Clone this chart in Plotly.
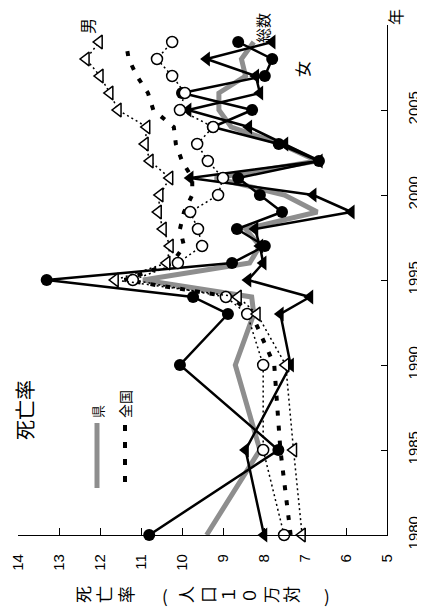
import plotly.graph_objects as go

# ---------------- data ----------------
years = [1980, 1985, 1990, 1993, 1994, 1995, 1996, 1997, 1998, 1999,
         2000, 2001, 2002, 2003, 2004, 2005, 2006, 2007, 2008, 2009]

pref_total = [9.4, 8.1, 8.7, 8.25, 8.3, 10.95, 8.35, 8.1, 8.45, 6.7,
              7.5, 9.2, 6.7, 7.6, 8.8, 9.1, 9.1, 8.45, 8.55, 8.25]
pref_female = [10.8, 7.65, 10.05, 8.88, 9.73, 13.3, 8.78, 7.98, 8.66, 7.56,
               8.1, 8.63, 6.66, 7.64, 9.25, 8.29, 10.0, 7.98, 7.8, 8.63]
pref_male = [8.0, 8.45, 7.35, 7.6, 6.88, 8.39, 8.02, 8.1, 8.22, 5.87,
             6.8, 9.8, 6.65, 7.49, 8.37, 9.85, 8.1, 8.2, 9.4, 7.8]
nat_total = [7.35, 7.6, 7.75, 8.3, 8.8, 11.4, 10.24, 9.95, 10.05, 9.95,
             9.75, 9.75, 10.0, 10.15, 10.2, 10.7, 10.83, 11.1, 11.3, 11.37]
nat_female = [7.51, 8.02, 8.02, 8.41, 8.93, 11.2, 10.1, 9.51, 9.61, 9.8,
              9.12, 9.0, 9.37, 9.63, 9.24, 10.05, 9.93, 10.24, 10.61, 10.24]
nat_male = [7.07, 7.28, 7.47, 8.17, 8.63, 11.63, 10.37, 10.29, 10.46, 10.58,
            10.54, 10.3, 10.78, 10.9, 10.86, 11.56, 11.76, 12.0, 12.34, 12.02]

value_ticks = [14, 13, 12, 11, 10, 9, 8, 7, 6, 5]
year_ticks = [1980, 1985, 1990, 1995, 2000, 2005, 2010]
axis_title_chars = list("死亡率（人口１０万対）")

# ---------------- layout helpers ----------------
OFF = 8  # default page body margin
W, H = 425 - OFF, 613 - OFF
L, R, T, B = 18 - OFF, 38, 25 - OFF, 78
PW, PH = W - L - R, H - T - B


def px(x):
    # x in window pixels -> paper fraction
    return (x - OFF - L) / PW


def py(y):
    return (H - B - (y - OFF)) / PH


GRAY = "#8e8e8e"
JP = "Noto Sans CJK JP"
NUM = "Liberation Sans, Arial, sans-serif"

fig = go.Figure()

fig.add_trace(go.Scatter(x=pref_total, y=years, mode="lines", name="県",
                         line=dict(color=GRAY, width=5), cliponaxis=False))
fig.add_trace(go.Scatter(x=pref_female, y=years, mode="lines+markers", name="県女",
                         line=dict(color="black", width=2.5),
                         marker=dict(symbol="circle", size=12, color="black"),
                         cliponaxis=False))
fig.add_trace(go.Scatter(x=pref_male, y=years, mode="lines+markers", name="県男",
                         line=dict(color="black", width=2.5),
                         marker=dict(symbol="triangle-left", size=13, color="black"),
                         cliponaxis=False))
fig.add_trace(go.Scatter(x=nat_total, y=years, mode="lines", name="全国",
                         line=dict(color="black", width=4, dash="5px,10px"),
                         cliponaxis=False))
fig.add_trace(go.Scatter(x=nat_female, y=years, mode="lines+markers", name="全国女",
                         line=dict(color="black", width=1.5, dash="2px,3px"),
                         marker=dict(symbol="circle", size=11, color="white",
                                     line=dict(color="black", width=1.5)),
                         cliponaxis=False))
fig.add_trace(go.Scatter(x=nat_male, y=years, mode="lines+markers", name="全国男",
                         line=dict(color="black", width=1.5, dash="2px,3px"),
                         marker=dict(symbol="triangle-left", size=12, color="white",
                                     line=dict(color="black", width=1.5)),
                         cliponaxis=False))

annotations = []


def ann(text, x, y, size, angle=-90, family=JP):
    annotations.append(dict(text=text, x=px(x), y=py(y), xref="paper", yref="paper",
                            showarrow=False, textangle=angle,
                            font=dict(family=family, size=size, color="black"),
                            xanchor="center", yanchor="middle"))


ann("死亡率", 24, 410, 20)
ann("県", 97, 412, 13)
ann("全国", 125, 404, 14)
ann("男", 87, 26, 16)
ann("女", 302, 69, 16)
ann("総数", 263, 28, 15)
ann("年", 395, 17, 16)

title_x = [82, 103, 125, 165, 185, 207, 227, 248, 270, 290, 327]
for ch, xx in zip(axis_title_chars, title_x):
    ang = 0 if ch in "（）" else -90
    t = {"（": "(", "）": ")"}.get(ch, ch)
    ann(t, xx, 595, 17, angle=ang)

shapes = [
    dict(type="line", xref="paper", yref="paper", x0=px(97), x1=px(97),
         y0=py(423), y1=py(488), line=dict(color=GRAY, width=5)),
    dict(type="line", xref="paper", yref="paper", x0=px(125), x1=px(125),
         y0=py(425), y1=py(488), line=dict(color="black", width=4, dash="6px,11px")),
]

fig.update_layout(
    width=W, height=H, autosize=False,
    margin=dict(l=L, r=R, t=T, b=B, pad=0, autoexpand=False),
    paper_bgcolor="white", plot_bgcolor="white",
    showlegend=False,
    annotations=annotations,
    shapes=shapes,
    xaxis=dict(range=[14, 5], tickvals=value_ticks,
               ticktext=[str(v) for v in value_ticks], automargin=False,
               tickangle=-90, ticks="inside", ticklen=7, tickwidth=1.3,
               tickcolor="black", showline=True, linecolor="black", linewidth=1.3,
               showgrid=False, zeroline=False,
               tickfont=dict(family=NUM, size=15, color="black"),
               ticklabelstandoff=12),
    yaxis=dict(range=[1980, 2010], tickvals=year_ticks,
               ticktext=[str(v) for v in year_ticks], side="right", automargin=False,
               tickangle=-90, ticks="inside", ticklen=6, tickwidth=1.3,
               tickcolor="black", showline=True, linecolor="black", linewidth=1.3,
               showgrid=False, zeroline=False,
               tickfont=dict(family=NUM, size=15, color="black"),
               ticklabelstandoff=13),
)

fig.write_html("out.html")
